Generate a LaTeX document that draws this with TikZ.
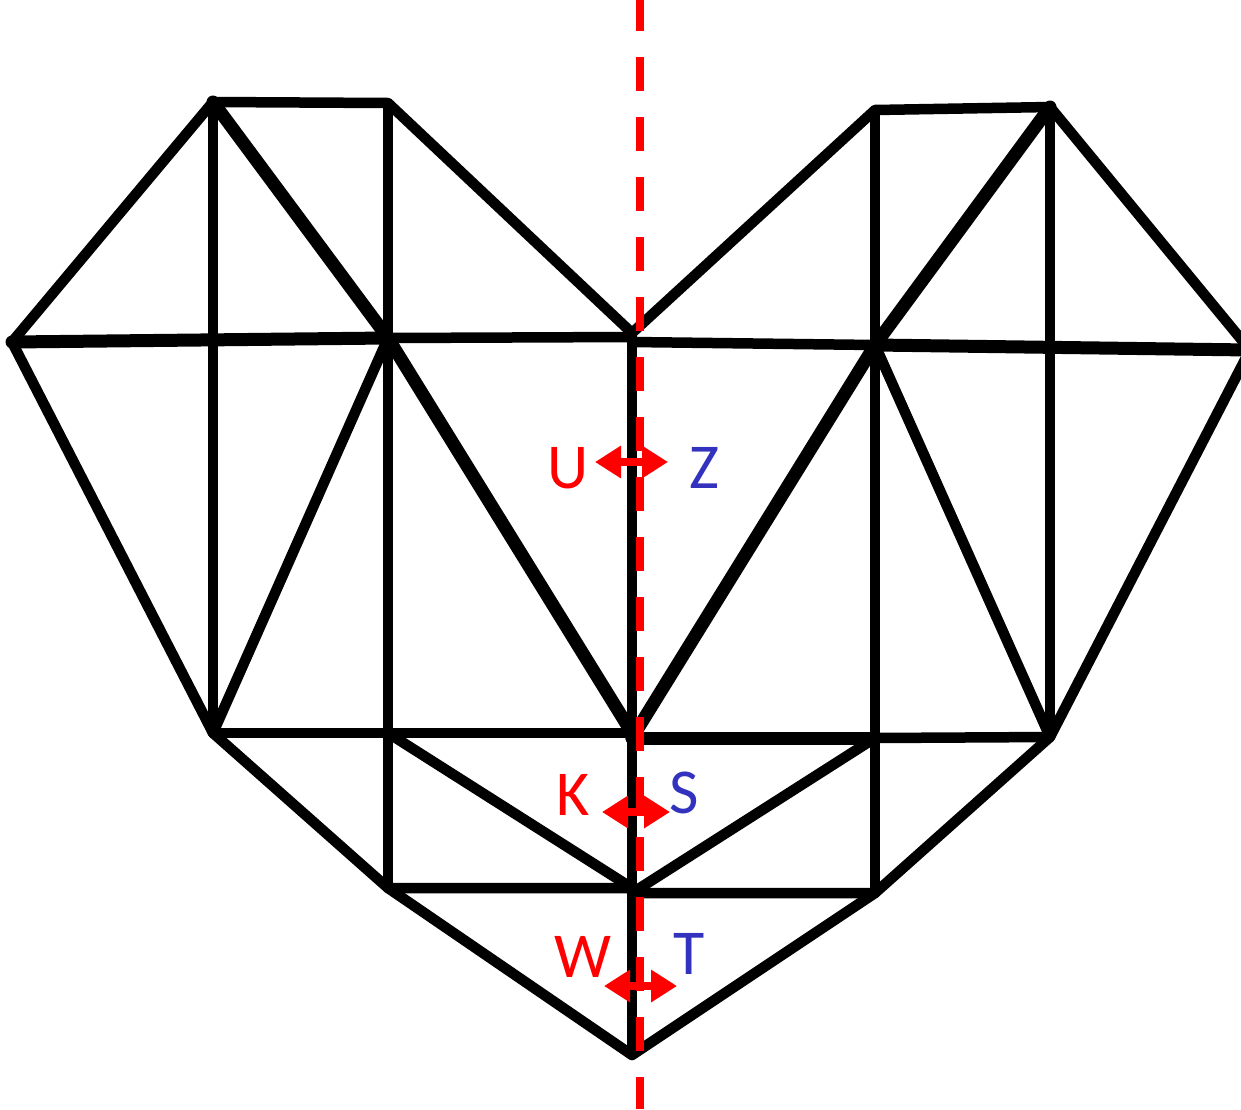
\documentclass[tikz,border=0pt]{standalone}
\usepackage{fontspec}
\setmainfont{Carlito}
\usetikzlibrary{arrows.meta}
\definecolor{lblue}{RGB}{50,50,190}
\begin{document}
\begin{tikzpicture}[x=1pt,y=-1pt,
  edge/.style={line width=10.5pt,black,line cap=round,line join=round},
  heavy/.style={edge,line width=13pt},
  axis/.style={red,line width=8.5pt,dash pattern=on 34pt off 26pt,dash phase=3pt},
  dbl/.style={red,line width=8.5pt,{Triangle[length=26pt,width=31pt]}-{Triangle[length=26pt,width=31pt]}},
  lab/.style={inner sep=0pt,font=\fontsize{64}{64}\selectfont}]
\useasboundingbox (0,0) rectangle (1241,1109);
\clip (0,0) rectangle (1241,1109);
% left half points
\coordinate (A) at (213,102);
\coordinate (B) at (388,103);
\coordinate (Lo) at (12,342);
\coordinate (Pm) at (388,338);
\coordinate (N) at (632,333);
\coordinate (Nl) at (632,337);
\coordinate (Lb) at (213,733);
\coordinate (Mb) at (388,733);
\coordinate (Cb) at (632,733);
\coordinate (Ld) at (388,888);
\coordinate (Cd) at (632,888);
\coordinate (Bot) at (632,1055);
% right half points
\coordinate (C) at (875,110);
\coordinate (R) at (1050,107);
\coordinate (Ro) at (1250,350);
\coordinate (Nr) at (632,342);
\coordinate (Pr) at (875,345);
\coordinate (Rb) at (1050,737);
\coordinate (Rmb) at (875,738);
\coordinate (Cb2) at (632,738);
\coordinate (Rd) at (875,893);
\coordinate (Cd2) at (632,893);
% left half
\draw[edge] (Lo) -- (A) -- (B) -- (N);
\draw[heavy] (Lo) -- (Pm);
\draw[edge] (Pm) -- (Nl);
\draw[edge] (A) -- (Lb);
\draw[heavy] (A) -- (Pm);
\draw[edge] (B) -- (Ld);
\draw[edge] (Lo) -- (Lb) -- (Pm);
\draw[heavy] (Pm) -- (Cb);
\draw[edge] (Lb) -- (Cb);
\draw[edge] (Lb) -- (Ld) -- (Cd);
\draw[edge] (Mb) -- (Cd);
\draw[edge] (Ld) -- (Bot);
% centre line
\draw[edge] (N) -- (Bot);
% right half
\draw[edge] (N) -- (C) -- (R) -- (Ro);
\draw[edge] (Nr) -- (Pr);
\draw[heavy] (Pr) -- (Ro);
\draw[edge] (C) -- (Rd);
\draw[heavy] (R) -- (Pr);
\draw[edge] (R) -- (Rb);
\draw[edge] (Ro) -- (Rb) -- (Pr);
\draw[heavy] (Pr) -- (Cb2);
\draw[heavy] (Cb2) -- (Rmb);
\draw[edge] (Rmb) -- (Rb);
\draw[edge] (Rb) -- (Rd) -- (Cd2);
\draw[edge] (Rmb) -- (Cd2);
\draw[edge] (Rd) -- (Bot);
% symmetry axis
\coordinate (ax1) at (640,0);
\coordinate (ax2) at (640,1109);
\draw[axis] (ax1) -- (ax2);
% labels
\node[lab,text=red] (U) at (568,468) {U};
\node[lab,text=lblue] (Z) at (704,468) {Z};
\node[lab,text=red] (K) at (573,795) {K};
\node[lab,text=lblue] (S) at (684,793) {S};
\node[lab,text=red] (W) at (583,957) {W};
\node[lab,text=lblue] (T) at (689,954) {T};
% arrows
\coordinate (u1) at (595,462);
\coordinate (z1) at (668,462);
\coordinate (k1) at (602,812);
\coordinate (s1) at (670,812);
\coordinate (w1) at (604,986);
\coordinate (t1) at (677,986);
\draw[dbl] (u1) -- (z1);
\draw[dbl] (k1) -- (s1);
\draw[dbl] (w1) -- (t1);
\end{tikzpicture}
\end{document}
